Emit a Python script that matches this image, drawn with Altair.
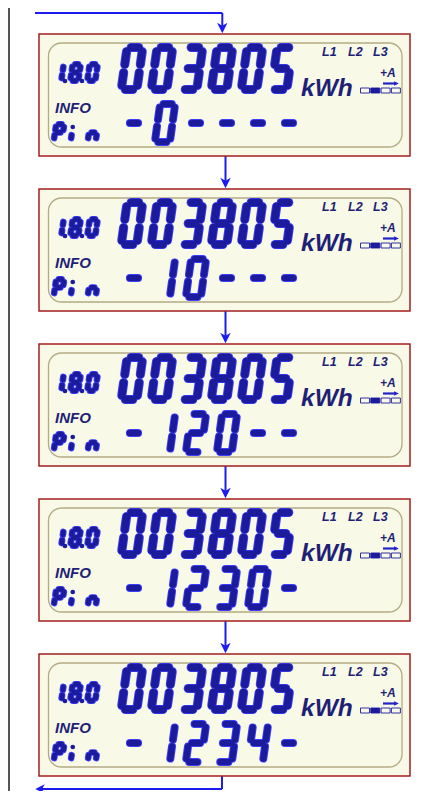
import altair as alt
import pandas as pd

# ---------------- data ----------------
PANEL_TOPS = [34, 189, 344, 499, 654]
PANEL_LEFT, PANEL_RIGHT, PANEL_HEIGHT = 39, 410, 122
READING = "003805"
PIN_ROWS = ["-0----", "-10---", "-120--", "-1230-", "-1234-"]
OBIS = "1.8.0"
PIN_LABEL = "Pin"
INFO_LABEL = "INFO"
UNIT = "kWh"
PHASES = ["L1", "L2", "L3"]
PHASE_X = [322, 348, 373]
DIRECTION = "+A"
QUADRANT_FILLED = [False, True, False, False]

READING_X = [132, 162, 192, 222, 252, 282]
PIN_X = [134, 165, 196, 227, 258, 289]
OBIS_X = [58.5, 75.5, 92.5]
PIN_LABEL_X = [59, 76, 93]

SEGMENTS = {'0': 'abcdef', '1': 'bc', '2': 'abdeg', '3': 'abcdg', '4': 'bcfg',
            '5': 'acdfg', '8': 'abcdefg', '-': 'g', 'P': 'abefg', 'i': 'e', 'n': 'ceg'}
SEG_ENDS = {'a': ((-1, -1), (1, -1)), 'b': ((1, -1), (1, 0)), 'c': ((1, 0), (1, 1)),
            'd': ((-1, 1), (1, 1)), 'e': ((-1, 0), (-1, 1)), 'f': ((-1, -1), (-1, 0)),
            'g': ((-1, 0), (1, 0))}

SEG_FILL = "#1b1b9c"
SEG_EDGE = "#3d3dff"
TEXT_NAVY = "#1f1f78"
FLOW_BLUE = "#1c1cf0"
BOX_FILL = "#f8f9e6"
BOX_EDGE = "#a31f1f"
LCD_EDGE = "#b3ab84"

XS = alt.Scale(domain=[8, 424], nice=False, zero=False)
YS = alt.Scale(domain=[8, 791], nice=False, zero=False, reverse=True)


def X(f="x"):
    return alt.X(f"{f}:Q", scale=XS, axis=None)


def Y(f="y"):
    return alt.Y(f"{f}:Q", scale=YS, axis=None)


# ---------------- seven-segment geometry ----------------
def seg_rows(chars, centers, cy, hw, hh, k, t):
    rows = []
    gap = 0.55 * t
    for ch, cx in zip(chars, centers):
        for s in SEGMENTS[ch]:
            (u1, v1), (u2, v2) = SEG_ENDS[s]
            p1 = [u1 * hw, v1 * hh]
            p2 = [u2 * hw, v2 * hh]
            dx, dy = p2[0] - p1[0], p2[1] - p1[1]
            ln = (dx * dx + dy * dy) ** 0.5
            ux, uy = dx / ln, dy / ln
            p1 = [p1[0] + ux * gap, p1[1] + uy * gap]
            p2 = [p2[0] - ux * gap, p2[1] - uy * gap]
            rows.append(dict(x=cx + p1[0] - k * p1[1], y=cy + p1[1],
                             x2=cx + p2[0] - k * p2[1], y2=cy + p2[1], w=t))
    return rows


seg = []
dots = []
for top, pin in zip(PANEL_TOPS, PIN_ROWS):
    seg += seg_rows(READING, READING_X, top + 34.5, 7.8, 21, 0.14, 7.4)
    seg += seg_rows(pin, PIN_X, top + 89, 7.5, 19, 0.14, 6.2)
    obis_chars = OBIS.replace(".", "")
    seg += seg_rows(obis_chars, OBIS_X, top + 38.5, 4, 8.25, 0.15, 4.8)
    for i in range(2):
        dots.append(dict(x=OBIS_X[i] + 4 + 2.5, y=top + 38.5 + 8.5))
    seg += seg_rows(PIN_LABEL, PIN_LABEL_X, top + 98.5, 4, 8.25, 0.15, 4.8)
    dots.append(dict(x=PIN_LABEL_X[1] - 4 + 0.15 * 5, y=top + 98.5 - 5.5))

seg_df = pd.DataFrame(seg)
seg_df["w_out"] = seg_df["w"] + 1.8
dot_df = pd.DataFrame(dots)

# ---------------- panels ----------------
box_df = pd.DataFrame([dict(x=PANEL_LEFT, x2=PANEL_RIGHT, y=t, y2=t + PANEL_HEIGHT) for t in PANEL_TOPS])
lcd_df = pd.DataFrame([dict(x=48.5, x2=402, y=t + 9, y2=t + 113) for t in PANEL_TOPS])

texts = []
for t in PANEL_TOPS:
    texts.append(dict(x=55, y=t + 79, text=INFO_LABEL, fs=15))
    texts.append(dict(x=301, y=t + 61.5, text=UNIT, fs=24.5))
    for px, ph in zip(PHASE_X, PHASES):
        texts.append(dict(x=px, y=t + 21.5, text=ph, fs=12.5))
    texts.append(dict(x=380, y=t + 43, text=DIRECTION, fs=12))
text_df = pd.DataFrame(texts)

quad = []
for t in PANEL_TOPS:
    for i, f in enumerate(QUADRANT_FILLED):
        quad.append(dict(x=360.5 + 10.3 * i, x2=360.5 + 10.3 * i + 9, y=t + 54, y2=t + 59,
                         fill=SEG_FILL if f else BOX_FILL))
quad_df = pd.DataFrame(quad)

small_arrow_df = pd.DataFrame([dict(x=383, x2=395, y=t + 49.5, y2=t + 49.5) for t in PANEL_TOPS])
small_head_df = pd.DataFrame([dict(x=396.5, y=t + 49.5) for t in PANEL_TOPS])

# ---------------- flow arrows ----------------
flow = [dict(x=35, x2=222.3, y=13, y2=13), dict(x=222.3, x2=222.3, y=13, y2=28)]
heads_down = [dict(x=222.3, y=28)]
for a, b in zip(PANEL_TOPS[:-1], PANEL_TOPS[1:]):
    flow.append(dict(x=225.5, x2=225.5, y=a + PANEL_HEIGHT, y2=b - 6))
    heads_down.append(dict(x=225.5, y=b - 6))
last = PANEL_TOPS[-1] + PANEL_HEIGHT
flow.append(dict(x=222, x2=222, y=last, y2=789))
flow.append(dict(x=222, x2=40, y=789, y2=789))
flow_df = pd.DataFrame(flow)
down_df = pd.DataFrame(heads_down)
left_df = pd.DataFrame([dict(x=40, y=789)])
border_df = pd.DataFrame([dict(x=9, y=8, y2=791)])

# ---------------- layers ----------------
border = alt.Chart(border_df).mark_rule(color="#2a2a2a", strokeWidth=1.6).encode(
    x=X(), y=Y(), y2="y2:Q")
flow_l = alt.Chart(flow_df).mark_rule(color=FLOW_BLUE, strokeWidth=2).encode(
    x=X(), x2="x2:Q", y=Y(), y2="y2:Q")
down_h = alt.Chart(down_df).mark_point(
    shape="M-1,-1L0,1L1,-1L0,-0.45Z", size=110, filled=True, opacity=1, color=FLOW_BLUE
).encode(x=X(), y=Y())
left_h = alt.Chart(left_df).mark_point(
    shape="M1,-1L-1,0L1,1L0.45,0Z", size=90, filled=True, opacity=1, color=FLOW_BLUE
).encode(x=X(), y=Y())

boxes = alt.Chart(box_df).mark_rect(fill=BOX_FILL, stroke=BOX_EDGE, strokeWidth=1.5).encode(
    x=X(), x2="x2:Q", y=Y(), y2="y2:Q")
lcds = alt.Chart(lcd_df).mark_rect(fill=BOX_FILL, stroke=LCD_EDGE, strokeWidth=1.3,
                                   cornerRadius=13).encode(
    x=X(), x2="x2:Q", y=Y(), y2="y2:Q")

seg_out = alt.Chart(seg_df).mark_rule(color=SEG_EDGE, strokeCap="round").encode(
    x=X(), x2="x2:Q", y=Y(), y2="y2:Q", strokeWidth=alt.StrokeWidth("w_out:Q", scale=None))
seg_in = alt.Chart(seg_df).mark_rule(color=SEG_FILL, strokeCap="round").encode(
    x=X(), x2="x2:Q", y=Y(), y2="y2:Q", strokeWidth=alt.StrokeWidth("w:Q", scale=None))
dot_l = alt.Chart(dot_df).mark_circle(color=SEG_FILL, size=22, opacity=1).encode(x=X(), y=Y())

text_l = alt.Chart(text_df).mark_text(
    align="left", baseline="alphabetic", font="Liberation Sans", fontStyle="italic",
    fontWeight="bold", color=TEXT_NAVY
).encode(x=X(), y=Y(), text="text:N", size=alt.Size("fs:Q", scale=None))

quad_l = alt.Chart(quad_df).mark_rect(stroke=SEG_FILL, strokeWidth=0.9).encode(
    x=X(), x2="x2:Q", y=Y(), y2="y2:Q", fill=alt.Fill("fill:N", scale=None))
sarrow = alt.Chart(small_arrow_df).mark_rule(color="#2323c8", strokeWidth=2.2).encode(
    x=X(), x2="x2:Q", y=Y(), y2="y2:Q")
shead = alt.Chart(small_head_df).mark_point(
    shape="M-1,-1L1,0L-1,1Z", size=22, filled=True, opacity=1, color="#2323c8"
).encode(x=X(), y=Y())

chart = alt.layer(
    border, flow_l, boxes, lcds, down_h, left_h, seg_out, seg_in, dot_l, text_l,
    quad_l, sarrow, shead
).properties(
    width=416, height=783, autosize=alt.AutoSizeParams(type="none"), padding=0,
    background="white"
).configure_view(strokeWidth=0)

chart.save("out.html", embed_options={"renderer": "svg", "actions": False})
